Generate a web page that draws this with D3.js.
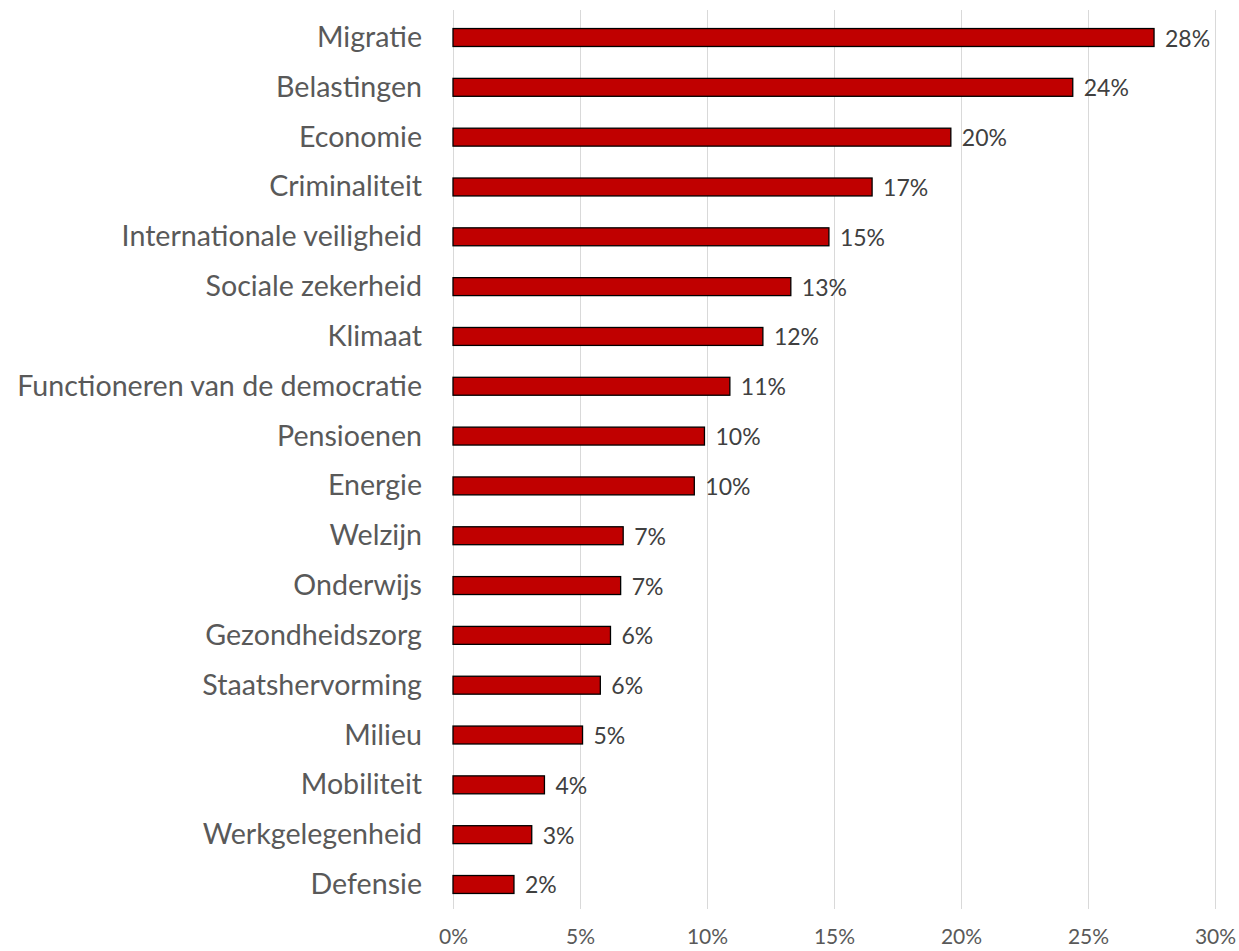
<!DOCTYPE html>
<html>
<head>
<meta charset="utf-8">
<script src="https://cdn.jsdelivr.net/npm/d3@7"></script>
<style>
  html, body { margin: 0; padding: 0; background: #fff; }
  svg { display: block; }
</style>
</head>
<body>
<svg id="chart" width="1239" height="951"></svg>
<script>
const categories = [
  "Migratie", "Belastingen", "Economie", "Criminaliteit", "Internationale veiligheid",
  "Sociale zekerheid", "Klimaat", "Functioneren van de democratie", "Pensioenen",
  "Energie", "Welzijn", "Onderwijs", "Gezondheidszorg", "Staatshervorming",
  "Milieu", "Mobiliteit", "Werkgelegenheid", "Defensie"
];
const values = [
  27.6, 24.4, 19.6, 16.5, 14.8, 13.3, 12.2, 10.9, 9.9,
  9.5, 6.7, 6.6, 6.2, 5.8, 5.1, 3.6, 3.1, 2.4
];
const tickValues = [0, 5, 10, 15, 20, 25, 30];

const font = "Lato, 'Open Sans', sans-serif";
const svg = d3.select("#chart");

const x = d3.scaleLinear().domain([0, 30]).range([453, 1215]);
const y = d3.scaleBand().domain(categories).range([12.6, 909.4]).paddingInner(0.64).paddingOuter(0.32);

// vertical gridlines
svg.append("g")
  .selectAll("line")
  .data(tickValues)
  .join("line")
  .attr("x1", d => Math.round(x(d)) + 0.5)
  .attr("x2", d => Math.round(x(d)) + 0.5)
  .attr("y1", 10)
  .attr("y2", 909)
  .attr("stroke", "#d9d9d9")
  .attr("stroke-width", 1);

// bars
svg.append("g")
  .selectAll("rect")
  .data(values)
  .join("rect")
  .attr("x", x(0))
  .attr("y", (d, i) => y(categories[i]))
  .attr("width", d => x(d) - x(0))
  .attr("height", y.bandwidth())
  .attr("fill", "#c00000")
  .attr("stroke", "#000")
  .attr("stroke-width", 1.3);

// value labels
svg.append("g")
  .selectAll("text")
  .data(values)
  .join("text")
  .attr("x", d => x(d) + 11)
  .attr("y", (d, i) => y(categories[i]) + y.bandwidth() / 2 + 9)
  .attr("font-family", font)
  .attr("font-size", 23)
  .attr("fill", "#404040")
  .text(d => Math.round(d) + "%");

// category labels
svg.append("g")
  .selectAll("text")
  .data(categories)
  .join("text")
  .attr("x", 422)
  .attr("y", d => y(d) + y.bandwidth() / 2 + 9.5)
  .attr("text-anchor", "end")
  .attr("font-family", font)
  .attr("font-size", 28.6)
  .attr("fill", "#595959")
  .text(d => d);

// x axis tick labels
const xAxis = d3.axisBottom(x).tickValues(tickValues).tickFormat(d => d + "%").tickSize(0).tickPadding(0);
const gx = svg.append("g").attr("transform", "translate(0,944)").call(xAxis);
gx.select(".domain").remove();
gx.selectAll("text")
  .attr("y", 0)
  .attr("dy", null)
  .attr("font-family", font)
  .attr("font-size", 21)
  .attr("fill", "#595959");
</script>
</body>
</html>
